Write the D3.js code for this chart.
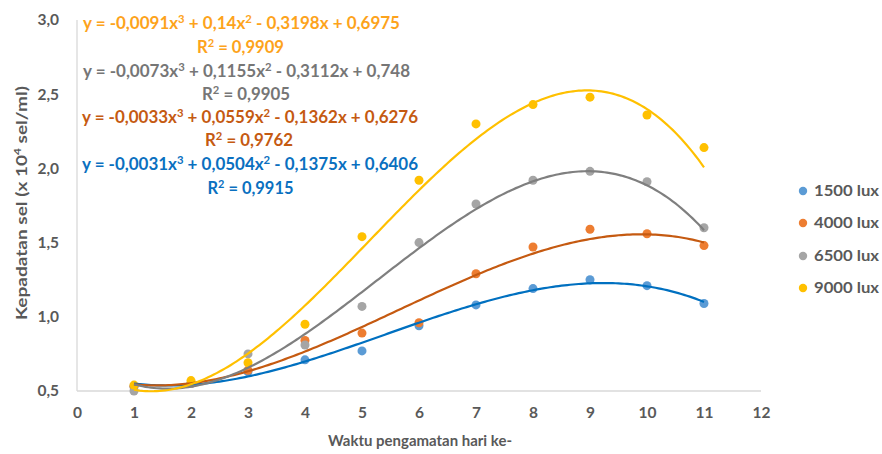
<!DOCTYPE html>
<html><head><meta charset="utf-8">
<script src="https://cdn.jsdelivr.net/npm/d3@7"></script>
<style>body{margin:0;background:#fff}svg{display:block}text{font-family:Lato,"Open Sans",sans-serif}</style>
</head><body>
<svg id="c" width="882" height="454"></svg>
<script>
const days = [1,2,3,4,5,6,7,8,9,10,11];
const xTicks = [0,1,2,3,4,5,6,7,8,9,10,11,12];
const yTicks = [0.5,1.0,1.5,2.0,2.5,3.0];
const seriesNames = ["1500 lux","4000 lux","6500 lux","9000 lux"];
const lux1500 = [0.53,0.55,0.63,0.71,0.77,0.94,1.08,1.19,1.25,1.21,1.09];
const lux4000 = [0.53,0.55,0.64,0.84,0.89,0.96,1.29,1.47,1.59,1.56,1.48];
const lux6500 = [0.50,0.55,0.75,0.81,1.07,1.50,1.76,1.92,1.98,1.91,1.60];
const lux9000 = [0.54,0.57,0.69,0.95,1.54,1.92,2.30,2.43,2.48,2.36,2.14];
// trendline coefficients [a3,a2,a1,a0] as printed
const coef1500 = [-0.0031,0.0504,-0.1375,0.6406];
const coef4000 = [-0.0033,0.0559,-0.1362,0.6276];
const coef6500 = [-0.0073,0.1155,-0.3112,0.748];
const coef9000 = [-0.0091,0.14,-0.3198,0.6975];
// equation pieces: [a3, a2, a1, a0, R2]
const eqParts = [
  ["-0,0091","0,14","0,3198","0,6975","0,9909"],
  ["-0,0073","0,1155","0,3112","0,748","0,9905"],
  ["-0,0033","0,0559","0,1362","0,6276","0,9762"],
  ["-0,0031","0,0504","0,1375","0,6406","0,9915"]
];

const svg = d3.select("#c");
const x = d3.scaleLinear().domain([0,12]).range([77,761]);
const y = d3.scaleLinear().domain([0.5,3.0]).range([391,20]);
const tickCol = "#595959";

svg.append("line").attr("x1",x(0)).attr("x2",x(12)).attr("y1",y(0.5)).attr("y2",y(0.5)).attr("stroke","#d9d9d9").attr("stroke-width",1.3);
svg.append("line").attr("x1",x(0)).attr("x2",x(0)).attr("y1",y(0.5)).attr("y2",y(3.0)).attr("stroke","#d9d9d9").attr("stroke-width",1.3);

const xa = svg.append("g").attr("transform",`translate(0,${y(0.5)})`).call(d3.axisBottom(x).tickValues(xTicks).tickSize(0).tickPadding(16).tickFormat(d3.format("d")));
xa.select(".domain").remove();
xa.selectAll("text").attr("fill",tickCol).attr("font-size",15.5).attr("font-weight",700);

const ya = svg.append("g").attr("transform",`translate(${x(0)},0)`).call(d3.axisLeft(y).tickValues(yTicks).tickSize(0).tickPadding(18).tickFormat(d=>d.toFixed(1).replace(".",",")));
ya.select(".domain").remove();
ya.selectAll("text").attr("fill",tickCol).attr("font-size",15.5).attr("font-weight",700);

svg.append("text").attr("x",420).attr("y",446).attr("text-anchor","middle").attr("fill",tickCol).attr("font-size",16).attr("font-weight",700)
  .attr("textLength",184).attr("lengthAdjust","spacingAndGlyphs").text("Waktu pengamatan hari ke-");
const yt = svg.append("text").attr("transform","translate(27,203) rotate(-90)").attr("text-anchor","middle").attr("fill",tickCol).attr("font-size",16).attr("font-weight",700)
  .attr("textLength",234).attr("lengthAdjust","spacingAndGlyphs");
yt.append("tspan").text("Kepadatan sel (x 10");
yt.append("tspan").attr("font-size",10).attr("dy",-6).text("4");
yt.append("tspan").attr("dy",6).text(" sel/ml)");

const series = [
  {vals:lux1500, coef:coef1500, pt:"#5b9bd5", ln:"#0070c0"},
  {vals:lux4000, coef:coef4000, pt:"#ed7d31", ln:"#c55a11"},
  {vals:lux6500, coef:coef6500, pt:"#a5a5a5", ln:"#7f7f7f"},
  {vals:lux9000, coef:coef9000, pt:"#ffc000", ln:"#ffc000"}
];
const poly = (c,t)=>c[0]*t*t*t+c[1]*t*t+c[2]*t+c[3];
const samples = d3.range(1,11.0001,0.05);
const line = d3.line().x(d=>x(d[0])).y(d=>y(d[1]));

series.forEach(s=>{
  svg.append("g").selectAll("circle").data(days).join("circle")
    .attr("cx",d=>x(d)).attr("cy",(d,i)=>y(s.vals[i])).attr("r",4.5).attr("fill",s.pt);
});
series.forEach(s=>{
  svg.append("path").datum(samples.map(t=>[t,poly(s.coef,t)])).attr("d",line)
    .attr("fill","none").attr("stroke",s.ln).attr("stroke-width",2.2);
});

const eqCols = ["#fda31b","#767676","#c55a11","#0a70c0"];
const eqY = [[23,47],[71,94],[117,140],[164,188]];
const eqCx = [[241.5,240.5],[246.5,246],[250,249],[250,250.5]];
const eqW = [[317,87],[327,88],[336,88],[336,86]];
eqParts.forEach((p,i)=>{
  const t = svg.append("text").attr("x",eqCx[i][0]).attr("y",eqY[i][0]).attr("dy","0.35em")
    .attr("text-anchor","middle").attr("fill",eqCols[i]).attr("font-size",16.5).attr("font-weight",700)
    .attr("textLength",eqW[i][0]).attr("lengthAdjust","spacingAndGlyphs");
  t.append("tspan").text(`y = ${p[0]}x`);
  t.append("tspan").attr("font-size",11).attr("dy",-6).text("3");
  t.append("tspan").attr("dy",6).text(` + ${p[1]}x`);
  t.append("tspan").attr("font-size",11).attr("dy",-6).text("2");
  t.append("tspan").attr("dy",6).text(` - ${p[2]}x + ${p[3]}`);
  const r = svg.append("text").attr("x",eqCx[i][1]).attr("y",eqY[i][1]).attr("dy","0.35em")
    .attr("text-anchor","middle").attr("fill",eqCols[i]).attr("font-size",16.5).attr("font-weight",700)
    .attr("textLength",eqW[i][1]).attr("lengthAdjust","spacingAndGlyphs");
  r.append("tspan").text("R");
  r.append("tspan").attr("font-size",11).attr("dy",-6).text("2");
  r.append("tspan").attr("dy",6).text(` = ${p[4]}`);
});

const legY = [191,223,256,288];
seriesNames.forEach((n,i)=>{
  svg.append("circle").attr("cx",803).attr("cy",legY[i]).attr("r",4.2).attr("fill",series[i].pt);
  svg.append("text").attr("x",814).attr("y",legY[i]).attr("dy","0.35em").attr("fill",tickCol)
    .attr("font-size",15.5).attr("font-weight",700).attr("textLength",65).attr("lengthAdjust","spacingAndGlyphs").text(n);
});
</script>
</body></html>
